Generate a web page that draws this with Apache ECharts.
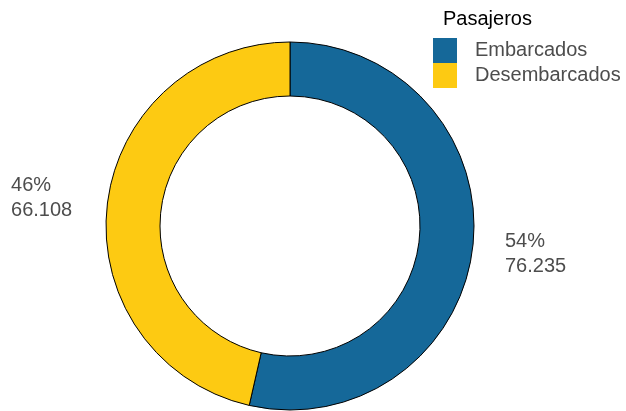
<!DOCTYPE html>
<html>
<head>
<meta charset="utf-8">
<script src="https://cdn.jsdelivr.net/npm/echarts@6/dist/echarts.min.js"></script>
<style>
  html, body { margin: 0; padding: 0; background: #fff; }
  #chart { width: 626px; height: 411px; }
</style>
</head>
<body>
<div id="chart"></div>
<script>
// datos
const categorias = ['Embarcados', 'Desembarcados']
const pasajeros = [76235, 66108]
const colores = ['#156899', '#FDCA12']

const total = pasajeros.reduce((a, b) => a + b, 0)

function fmtMiles(v) {
  return String(v).replace(/\B(?=(\d{3})+(?!\d))/g, '.')
}

const chart = echarts.init(document.getElementById('chart'))
chart.setOption({
  backgroundColor: '#ffffff',
  animation: false,
  graphic: [{
    type: 'text',
    left: 443,
    top: 9,
    style: {
      text: 'Pasajeros',
      fontFamily: 'Liberation Sans',
      fontSize: 20,
      fill: '#000000'
    }
  }],
  legend: {
    orient: 'vertical',
    left: 433,
    top: 38,
    padding: 0,
    icon: 'rect',
    itemWidth: 24,
    itemHeight: 25,
    itemGap: 0,
    selectedMode: false,
    data: categorias.map((c, i) => ({ name: c, itemStyle: { color: colores[i], borderWidth: 0 } })),
    textStyle: {
      fontFamily: 'Liberation Sans',
      fontSize: 20,
      color: '#4D4D4D',
      padding: [0, 0, 0, 13]
    }
  },
  series: [
    {
      name: 'Pasajeros',
      type: 'pie',
      center: [290, 226],
      radius: [130, 184],
      startAngle: 90,
      clockwise: true,
      silent: true,
      label: { show: false },
      labelLine: { show: false },
      itemStyle: { borderColor: '#000000', borderWidth: 1 },
      data: categorias.map((c, i) => ({
        name: c,
        value: pasajeros[i],
        itemStyle: { color: colores[i] }
      }))
    },
    {
      // etiquetas fuera del anillo
      name: 'etiquetas',
      type: 'pie',
      center: [290, 226],
      radius: [229, 262],
      startAngle: 90,
      clockwise: true,
      silent: true,
      labelLine: { show: false },
      label: {
        show: true,
        position: 'inside',
        formatter: p => '{a|' + Math.round(p.value / total * 100) + '%}\n{a|' + fmtMiles(p.value) + '}',
        rich: {
          a: {
            fontFamily: 'Liberation Sans',
            fontSize: 20,
            color: '#4D4D4D',
            lineHeight: 25,
            width: 64,
            align: 'left'
          }
        }
      },
      data: categorias.map((c, i) => ({
        name: c,
        value: pasajeros[i],
        itemStyle: { color: 'rgba(0,0,0,0)', borderWidth: 0 }
      }))
    }
  ]
})
</script>
</body>
</html>
